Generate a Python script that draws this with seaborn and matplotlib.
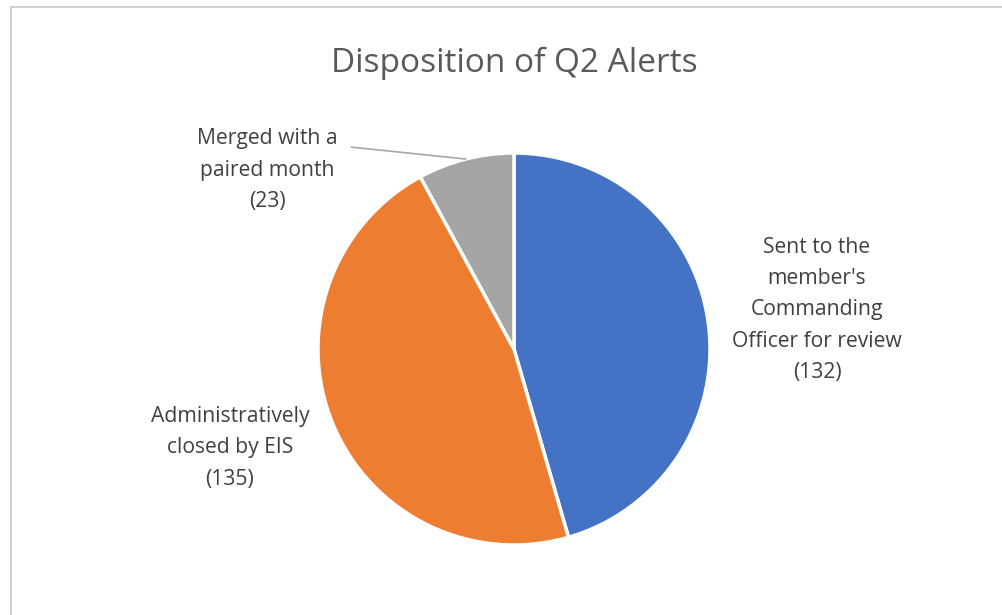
import numpy as np
import matplotlib
matplotlib.use("Agg")
import matplotlib.pyplot as plt
import seaborn as sns
from matplotlib.patches import Rectangle

# data
categories = ["Sent to the\nmember's\nCommanding\nOfficer for review",
              "Administratively\nclosed by EIS",
              "Merged with a\npaired month"]
counts = [132, 135, 23]
colors = ["#4472C4", "#ED7D31", "#A5A5A5"]

sns.set_theme(style="white")
plt.rcParams["font.family"] = ["Open Sans", "DejaVu Sans"]

fig = plt.figure(figsize=(10.03, 6.15), dpi=100)

# pie center at (514, 349) px, radius 196 px
cx, cy, r = 514, 615 - 349, 196
ax = fig.add_axes([(cx - r) / 1003, (cy - r) / 615, 2 * r / 1003, 2 * r / 615])

wedges, _ = ax.pie(counts, colors=colors, startangle=90, counterclock=False,
                   wedgeprops=dict(edgecolor="white", linewidth=2.5))
ax.set_xlim(-1, 1)
ax.set_ylim(-1, 1)
ax.set_aspect("equal")
ax.axis("off")

txt_color = "#404040"
label_pos = [(1.546, 0.20), (-1.449, -0.505), (-1.26, 0.913)]
for lab, n, (lx, ly) in zip(categories, counts, label_pos):
    ax.text(lx, ly, f"{lab}\n({n})", ha="center", va="center",
            fontsize=15.2, color=txt_color, linespacing=1.64, clip_on=False)

# leader line for the small slice
w = wedges[2]
mid = np.deg2rad((w.theta1 + w.theta2) / 2)
ax.plot([-0.83, np.cos(mid)], [1.03, np.sin(mid)], color="#A6A6A6",
        lw=1.2, clip_on=False)

fig.text(514 / 1003, 1 - 63 / 615, "Disposition of Q2 Alerts", ha="center",
         va="center", fontsize=24, color="#595959")

fig.patches.append(Rectangle((11 / 1003, -0.01), 1.0, 1 - 7 / 615 + 0.01,
                             transform=fig.transFigure, fill=False,
                             edgecolor="#C8C8C8", lw=1.2))

fig.savefig("out.png", dpi=100)
